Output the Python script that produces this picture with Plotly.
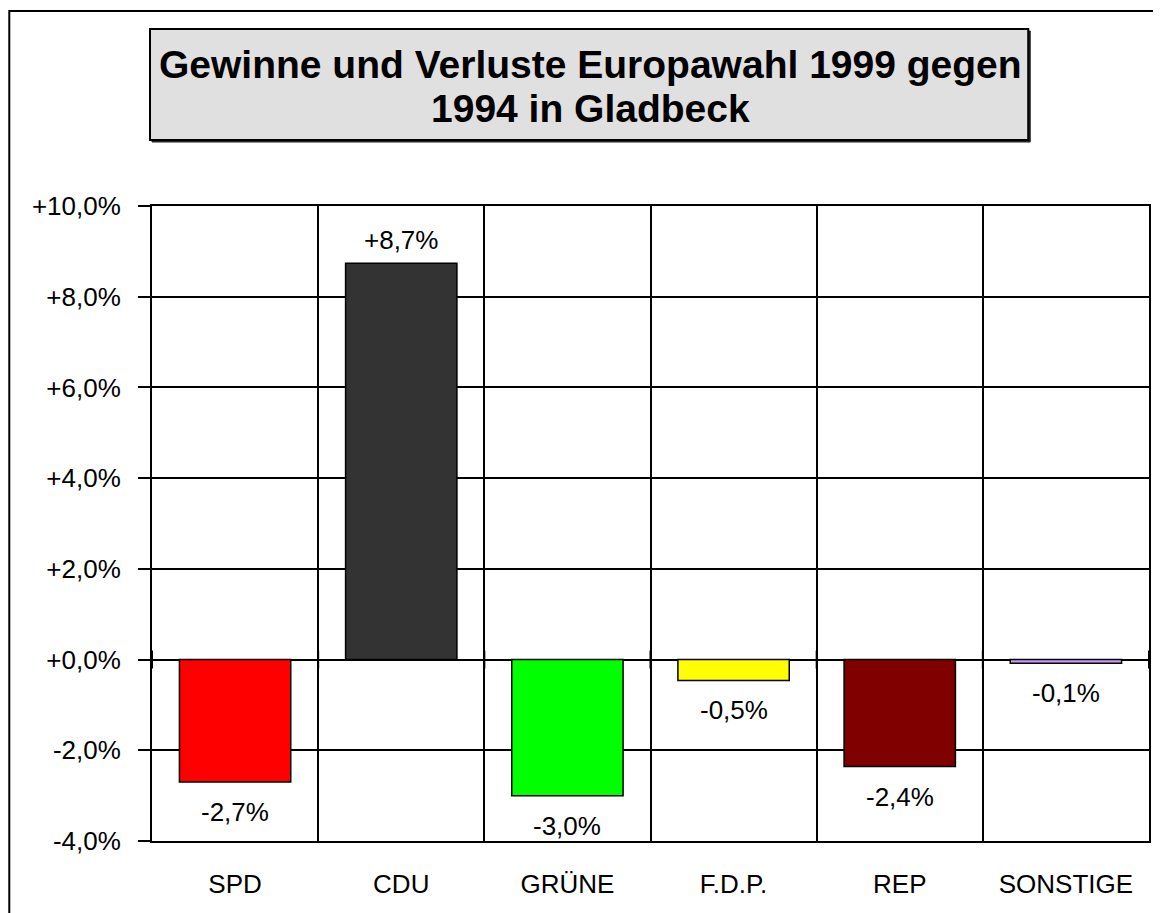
import plotly.graph_objects as go

categories = ["SPD", "CDU", "GRÜNE", "F.D.P.", "REP", "SONSTIGE"]
changes = [-2.7, 8.74, -3.0, -0.46, -2.36, -0.08]
value_labels = ["-2,7%", "+8,7%", "-3,0%", "-0,5%", "-2,4%", "-0,1%"]
bar_colors = ["#FF0000", "#333333", "#00FF00", "#FFFF00", "#800000", "#CC99FF"]
y_tickvals = [-4, -2, 0, 2, 4, 6, 8, 10]
y_ticktext = ["-4,0%", "-2,0%", "+0,0%", "+2,0%", "+4,0%", "+6,0%", "+8,0%", "+10,0%"]
title_lines = ["Gewinne und Verluste Europawahl 1999 gegen", "1994 in Gladbeck"]

FONT = "Liberation Sans, Arial, sans-serif"
OFF = 8  # page body margin
W, H = 1161 - OFF, 913 - OFF
# plot area in window coordinates
PL, PR, PT, PB = 152, 1151, 206, 841
L, T = PL - OFF, PT - OFF
R, B = W - (PR - OFF), H - (PB - OFF)
PW, PH = PR - PL, PB - PT


def px(p):
    return (p - PL) / PW


def py(p):
    return (PB - p) / PH


fig = go.Figure()
fig.add_trace(go.Bar(
    x=categories, y=changes,
    marker=dict(color=bar_colors, line=dict(color="black", width=1.5)),
    showlegend=False, hoverinfo="skip",
))

annotations = []
for c, v, lab in zip(categories, changes, value_labels):
    annotations.append(dict(
        x=c, y=v, xref="x", yref="y", text=lab, showarrow=False,
        yanchor="middle", yshift=23 if v >= 0 else -30,
        font=dict(family=FONT, size=26, color="black"),
    ))

for i, line in enumerate(title_lines):
    annotations.append(dict(
        x=px(591), y=py(65 if i == 0 else 109), xref="paper", yref="paper",
        text="<b>" + line + "</b>", showarrow=False,
        xanchor="center", yanchor="middle",
        font=dict(family=FONT, size=39, color="black"),
    ))

shapes = [
    # outer frame
    dict(type="rect", xref="paper", yref="paper",
         x0=px(9), x1=px(1175), y0=py(925), y1=py(11),
         line=dict(color="black", width=2), fillcolor="rgba(0,0,0,0)", layer="below"),
    # title shadow
    dict(type="rect", xref="paper", yref="paper",
         x0=px(152), x1=px(1032), y0=py(142), y1=py(31),
         line=dict(color="#222222", width=1), fillcolor="#222222", layer="above"),
    # title box
    dict(type="rect", xref="paper", yref="paper",
         x0=px(150), x1=px(1030), y0=py(140), y1=py(29),
         line=dict(color="black", width=2), fillcolor="#E0E0E0", layer="above"),
]
# small crossing ticks on the category axis at zero
for i in range(len(categories) + 1):
    shapes.append(dict(
        type="line", xref="x", yref="y", x0=i - 0.5, x1=i - 0.5,
        ysizemode="pixel", yanchor=0, y0=-9, y1=9,
        line=dict(color="black", width=2),
    ))

fig.update_layout(
    width=W, height=H,
    margin=dict(l=L, r=R, t=T, b=B, pad=0),
    paper_bgcolor="white", plot_bgcolor="white",
    bargap=0.33,
    font=dict(family=FONT, size=26, color="black"),
    annotations=annotations, shapes=shapes,
    xaxis=dict(
        type="category", tickson="boundaries", showgrid=True,
        gridcolor="black", gridwidth=1.5, ticks="",
        showline=True, linecolor="black", linewidth=2, mirror=True,
        tickfont=dict(family=FONT, size=26, color="black"),
        ticklabelstandoff=19, range=[-0.5, 5.5], fixedrange=True,
    ),
    yaxis=dict(
        range=[-4, 10], tickvals=y_tickvals, ticktext=y_ticktext,
        showgrid=True, gridcolor="black", gridwidth=2,
        zeroline=True, zerolinecolor="black", zerolinewidth=2,
        ticks="outside", ticklen=12, tickwidth=2, tickcolor="black",
        showline=True, linecolor="black", linewidth=2, mirror=True,
        tickfont=dict(family=FONT, size=26, color="black"),
        ticklabelstandoff=12, fixedrange=True,
    ),
)

fig.write_html("out.html")
